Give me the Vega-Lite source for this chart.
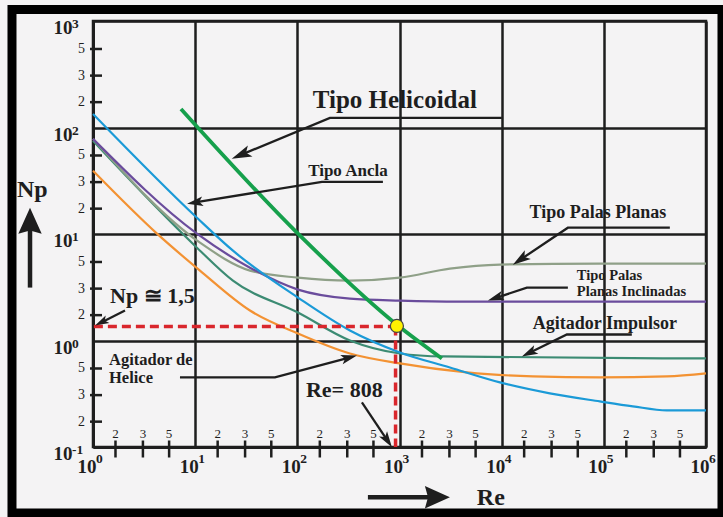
{
  "$schema": "https://vega.github.io/schema/vega-lite/v6.json",
  "width": 613,
  "height": 426,
  "autosize": {"type": "none"},
  "padding": {"left": 93, "top": 21, "right": 17, "bottom": 70},
  "background": "#f4f3f4",
  "config": {"view": {"stroke": "#1e1e1e", "strokeWidth": 2.5}},
  "encoding": {
    "x": {
      "field": "Re", "type": "quantitative",
      "scale": {"type": "log", "domain": [1, 1000000], "nice": false},
      "axis": {
        "values": [1, 10, 100, 1000, 10000, 100000, 1000000],
        "labelExpr": "'10'",
        "title": null, "ticks": false, "tickSize": 0, "grid": true,
        "gridColor": "#1e1e1e", "gridWidth": 2.5, "gridOpacity": 1,
        "domainColor": "#1e1e1e", "domainWidth": 3,
        "labelFont": "Liberation Serif", "labelFontWeight": "bold", "labelFontSize": 19,
        "labelColor": "#1e1e1e", "labelPadding": 25, "labelAlign": "right", "labelBaseline": "alphabetic", "labelOffset": 3,
        "labelFlush": false, "labelOverlap": false, "labelBound": false
      }
    },
    "y": {
      "field": "Np", "type": "quantitative",
      "scale": {"type": "log", "domain": [0.1, 1000], "nice": false},
      "axis": {
        "values": [0.1, 1, 10, 100, 1000],
        "labelExpr": "'10'",
        "title": null, "ticks": false, "tickSize": 0, "grid": true,
        "gridColor": "#1e1e1e", "gridWidth": 2.5, "gridOpacity": 1,
        "domainColor": "#1e1e1e", "domainWidth": 3,
        "labelFont": "Liberation Serif", "labelFontWeight": "bold", "labelFontSize": 19,
        "labelColor": "#1e1e1e", "labelPadding": 21, "labelAlign": "right", "labelBaseline": "alphabetic", "labelOffset": 12.5,
        "labelFlush": false, "labelOverlap": false, "labelBound": false
      }
    }
  },
  "layer": [
    {
      "data": {"values": [
        {"series": "Agitador de Helice", "Re": 1, "Np": 39.2},
        {"series": "Agitador de Helice", "Re": 4.229, "Np": 10.07},
        {"series": "Agitador de Helice", "Re": 11.14, "Np": 4.53},
        {"series": "Agitador de Helice", "Re": 34.38, "Np": 1.911},
        {"series": "Agitador de Helice", "Re": 101.4, "Np": 1.163},
        {"series": "Agitador de Helice", "Re": 327, "Np": 0.755},
        {"series": "Agitador de Helice", "Re": 1009, "Np": 0.609},
        {"series": "Agitador de Helice", "Re": 4565, "Np": 0.501},
        {"series": "Agitador de Helice", "Re": 20200, "Np": 0.46},
        {"series": "Agitador de Helice", "Re": 91400, "Np": 0.45},
        {"series": "Agitador de Helice", "Re": 413400, "Np": 0.46},
        {"series": "Agitador de Helice", "Re": 1000000, "Np": 0.4907},
        {"series": "Agitador Impulsor", "Re": 1, "Np": 74.9},
        {"series": "Agitador Impulsor", "Re": 10.41, "Np": 7.44},
        {"series": "Agitador Impulsor", "Re": 23.44, "Np": 3.65},
        {"series": "Agitador Impulsor", "Re": 101.4, "Np": 1.83},
        {"series": "Agitador Impulsor", "Re": 327, "Np": 1.0},
        {"series": "Agitador Impulsor", "Re": 1009, "Np": 0.755},
        {"series": "Agitador Impulsor", "Re": 2659, "Np": 0.708},
        {"series": "Agitador Impulsor", "Re": 1000000, "Np": 0.678},
        {"series": "Tipo Palas Planas", "Re": 1, "Np": 78.2},
        {"series": "Tipo Palas Planas", "Re": 11.14, "Np": 8.29},
        {"series": "Tipo Palas Planas", "Re": 34.38, "Np": 4.53},
        {"series": "Tipo Palas Planas", "Re": 101.4, "Np": 3.89},
        {"series": "Tipo Palas Planas", "Re": 327, "Np": 3.65},
        {"series": "Tipo Palas Planas", "Re": 1009, "Np": 3.89},
        {"series": "Tipo Palas Planas", "Re": 3113, "Np": 4.73},
        {"series": "Tipo Palas Planas", "Re": 9603, "Np": 5.16},
        {"series": "Tipo Palas Planas", "Re": 91400, "Np": 5.27},
        {"series": "Tipo Palas Planas", "Re": 1000000, "Np": 5.27},
        {"series": "Tipo Palas Planas Inclinadas", "Re": 1, "Np": 78.2},
        {"series": "Tipo Palas Planas Inclinadas", "Re": 10.41, "Np": 10.07},
        {"series": "Tipo Palas Planas Inclinadas", "Re": 34.38, "Np": 4.83},
        {"series": "Tipo Palas Planas Inclinadas", "Re": 101.4, "Np": 3.006},
        {"series": "Tipo Palas Planas Inclinadas", "Re": 327, "Np": 2.476},
        {"series": "Tipo Palas Planas Inclinadas", "Re": 1009, "Np": 2.371},
        {"series": "Tipo Palas Planas Inclinadas", "Re": 3899, "Np": 2.32},
        {"series": "Tipo Palas Planas Inclinadas", "Re": 1000000, "Np": 2.32},
        {"series": "Tipo Ancla", "Re": 1, "Np": 134.1},
        {"series": "Tipo Ancla", "Re": 10.41, "Np": 14.21},
        {"series": "Tipo Ancla", "Re": 23.44, "Np": 6.97},
        {"series": "Tipo Ancla", "Re": 101.4, "Np": 2.529},
        {"series": "Tipo Ancla", "Re": 327, "Np": 1.241},
        {"series": "Tipo Ancla", "Re": 1009, "Np": 0.772},
        {"series": "Tipo Ancla", "Re": 3113, "Np": 0.558},
        {"series": "Tipo Ancla", "Re": 9603, "Np": 0.404},
        {"series": "Tipo Ancla", "Re": 29610, "Np": 0.319},
        {"series": "Tipo Ancla", "Re": 91400, "Np": 0.268},
        {"series": "Tipo Ancla", "Re": 192200, "Np": 0.241},
        {"series": "Tipo Ancla", "Re": 413400, "Np": 0.221},
        {"series": "Tipo Ancla", "Re": 1000000, "Np": 0.221}
      ]},
      "mark": {"type": "line", "strokeWidth": 2.2, "interpolate": "monotone"},
      "encoding": {
        "color": {"field": "series", "type": "nominal", "legend": null,
          "scale": {"domain": ["Agitador de Helice", "Agitador Impulsor", "Tipo Palas Planas", "Tipo Palas Planas Inclinadas", "Tipo Ancla"],
                    "range": ["#f39233", "#3c8b73", "#8fa088", "#6a4c9c", "#1b9ad7"]}}
      }
    },
    {
      "data": {"values": [
        {"series": "Tipo Helicoidal", "Re": 7.26, "Np": 149.4},
        {"series": "Tipo Helicoidal", "Re": 101.4, "Np": 10.07},
        {"series": "Tipo Helicoidal", "Re": 964.5, "Np": 1.382},
        {"series": "Tipo Helicoidal", "Re": 2600, "Np": 0.678}
      ]},
      "mark": {"type": "line", "strokeWidth": 3.8, "color": "#16a04c", "interpolate": "monotone"}
    },
    {
      "data": {"values": [
        {"seg": "h", "k": 0, "Re": 1.02, "Np": 1.355},
        {"seg": "h", "k": 1, "Re": 915, "Np": 1.355},
        {"seg": "v", "k": 0, "Re": 915, "Np": 1.355},
        {"seg": "v", "k": 1, "Re": 915, "Np": 0.1}
      ]},
      "mark": {"type": "line", "strokeWidth": 3.5, "color": "#d9262c", "strokeDash": [9, 5]},
      "encoding": {"detail": {"field": "seg"}, "order": {"field": "k"}}
    },
    {
      "data": {"values": [{"Re": 943, "Np": 1.37}]},
      "mark": {"type": "point", "shape": "circle", "filled": true, "fill": "#fff200", "stroke": "#444444", "strokeWidth": 1.2, "size": 170, "opacity": 1}
    },
    {
      "data": {"values": [
        {"arrow": "A1", "k": 0, "Re": 10046, "Np": 123.0},
        {"arrow": "A1", "k": 1, "Re": 208.4, "Np": 123.0},
        {"arrow": "A1", "k": 2, "Re": 28.06, "Np": 55.4},
        {"arrow": "A2", "k": 0, "Re": 688, "Np": 30.9},
        {"arrow": "A2", "k": 1, "Re": 174.1, "Np": 30.9},
        {"arrow": "A2", "k": 2, "Re": 9.95, "Np": 19.78},
        {"arrow": "A3", "k": 0, "Re": 442600, "Np": 11.46},
        {"arrow": "A3", "k": 1, "Re": 44460, "Np": 11.46},
        {"arrow": "A3", "k": 2, "Re": 15240, "Np": 5.742},
        {"arrow": "A4", "k": 0, "Re": 44460, "Np": 3.139},
        {"arrow": "A4", "k": 1, "Re": 17640, "Np": 3.139},
        {"arrow": "A4", "k": 2, "Re": 8697, "Np": 2.502},
        {"arrow": "A5", "k": 0, "Re": 187900, "Np": 1.138},
        {"arrow": "A5", "k": 1, "Re": 43450, "Np": 1.138},
        {"arrow": "A5", "k": 2, "Re": 18540, "Np": 0.7635},
        {"arrow": "A6", "k": 0, "Re": 7.10, "Np": 0.4499},
        {"arrow": "A6", "k": 1, "Re": 60.37, "Np": 0.4499},
        {"arrow": "A6", "k": 2, "Re": 322, "Np": 0.6914},
        {"arrow": "A7", "k": 0, "Re": 2.056, "Np": 1.911},
        {"arrow": "A7", "k": 1, "Re": 1.206, "Np": 1.478},
        {"arrow": "A8", "k": 0, "Re": 428.6, "Np": 0.2623},
        {"arrow": "A8", "k": 1, "Re": 763, "Np": 0.1148}
      ]},
      "mark": {"type": "line", "strokeWidth": 2.3, "color": "#1e1e1e"},
      "encoding": {"detail": {"field": "arrow"}, "order": {"field": "k"}}
    },
    {
      "data": {"values": [
        {"arrow": "Np", "k": 0, "Re": 0.2418, "Np": 3.139},
        {"arrow": "Np", "k": 1, "Re": 0.2418, "Np": 13.32},
        {"arrow": "Re", "k": 0, "Re": 490.6, "Np": 0.03378},
        {"arrow": "Re", "k": 1, "Re": 2349, "Np": 0.03378}
      ]},
      "mark": {"type": "line", "strokeWidth": 4.5, "color": "#1e1e1e", "clip": false},
      "encoding": {"detail": {"field": "arrow"}, "order": {"field": "k"}}
    },
    {"data": {"values": [{"Re": 28.06, "Np": 55.4}]},
     "mark": {"type": "point", "shape": "M0,-1L0.6,1L0,0.55L-0.6,1Z", "filled": true, "color": "#1e1e1e", "opacity": 1, "size": 400, "angle": 247.3}},
    {"data": {"values": [{"Re": 9.95, "Np": 19.78}]},
     "mark": {"type": "point", "shape": "M0,-1L0.6,1L0,0.55L-0.6,1Z", "filled": true, "color": "#1e1e1e", "opacity": 1, "size": 256, "angle": 260.7}},
    {"data": {"values": [{"Re": 15240, "Np": 5.742}]},
     "mark": {"type": "point", "shape": "M0,-1L0.6,1L0,0.55L-0.6,1Z", "filled": true, "color": "#1e1e1e", "opacity": 1, "size": 324, "angle": 236.1}},
    {"data": {"values": [{"Re": 8697, "Np": 2.502}]},
     "mark": {"type": "point", "shape": "M0,-1L0.6,1L0,0.55L-0.6,1Z", "filled": true, "color": "#1e1e1e", "opacity": 1, "size": 256, "angle": 251.6}},
    {"data": {"values": [{"Re": 18540, "Np": 0.7635}]},
     "mark": {"type": "point", "shape": "M0,-1L0.6,1L0,0.55L-0.6,1Z", "filled": true, "color": "#1e1e1e", "opacity": 1, "size": 256, "angle": 243.9}},
    {"data": {"values": [{"Re": 322, "Np": 0.6914}]},
     "mark": {"type": "point", "shape": "M0,-1L0.6,1L0,0.55L-0.6,1Z", "filled": true, "color": "#1e1e1e", "opacity": 1, "size": 256, "angle": 75}},
    {"data": {"values": [{"Re": 1.206, "Np": 1.478}]},
     "mark": {"type": "point", "shape": "M0,-1L0.6,1L0,0.55L-0.6,1Z", "filled": true, "color": "#1e1e1e", "opacity": 1, "size": 196, "angle": 243.4}},
    {"data": {"values": [{"Re": 763, "Np": 0.1148}]},
     "mark": {"type": "point", "shape": "M0,-1L0.6,1L0,0.55L-0.6,1Z", "filled": true, "color": "#1e1e1e", "opacity": 1, "size": 256, "angle": 146.3}},
    {"data": {"values": [{"Re": 0.2418, "Np": 13.32}]},
     "mark": {"type": "point", "shape": "M0,-1L0.9,1L0,0.75L-0.9,1Z", "filled": true, "color": "#1e1e1e", "opacity": 1, "size": 676, "angle": 0, "clip": false}},
    {"data": {"values": [{"Re": 2349, "Np": 0.03378}]},
     "mark": {"type": "point", "shape": "M0,-1L0.9,1L0,0.75L-0.9,1Z", "filled": true, "color": "#1e1e1e", "opacity": 1, "size": 625, "angle": 90, "clip": false}},
    {"data": {"values": [{"Re": 901, "Np": 152.7, "t": "Tipo Helicoidal"}]},
     "mark": {"type": "text", "font": "Liberation Serif", "fontWeight": "bold", "fontSize": 25, "align": "center", "baseline": "alphabetic", "color": "#1e1e1e"},
     "encoding": {"text": {"field": "t"}}},
    {"data": {"values": [{"Re": 312.6, "Np": 35.2, "t": "Tipo Ancla"}]},
     "mark": {"type": "text", "font": "Liberation Serif", "fontWeight": "bold", "fontSize": 17, "align": "center", "baseline": "alphabetic", "color": "#1e1e1e"},
     "encoding": {"text": {"field": "t"}}},
    {"data": {"values": [{"Re": 87300, "Np": 14.2, "t": "Tipo Palas Planas"}, {"Re": 102300, "Np": 1.296, "t": "Agitador Impulsor"}]},
     "mark": {"type": "text", "font": "Liberation Serif", "fontWeight": "bold", "fontSize": 18, "align": "center", "baseline": "alphabetic", "color": "#1e1e1e"},
     "encoding": {"text": {"field": "t"}}},
    {"data": {"values": [{"Re": 54450, "Np": 3.73, "t": "Tipo Palas"}, {"Re": 54450, "Np": 2.64, "t": "Planas Inclinadas"}]},
     "mark": {"type": "text", "font": "Liberation Serif", "fontWeight": "bold", "fontSize": 14.5, "align": "left", "baseline": "alphabetic", "color": "#1e1e1e"},
     "encoding": {"text": {"field": "t"}}},
    {"data": {"values": [{"Re": 1.434, "Np": 0.583, "t": "Agitador de"}, {"Re": 1.434, "Np": 0.3953, "t": "Helice"}]},
     "mark": {"type": "text", "font": "Liberation Serif", "fontWeight": "bold", "fontSize": 16.5, "align": "left", "baseline": "alphabetic", "color": "#1e1e1e"},
     "encoding": {"text": {"field": "t"}}},
    {"data": {"values": [{"Re": 1.467, "Np": 2.27, "t": "Np ≅ 1,5"}, {"Re": 121.4, "Np": 0.2922, "t": "Re= 808"}]},
     "mark": {"type": "text", "font": "Liberation Serif", "fontWeight": "bold", "fontSize": 22, "align": "left", "baseline": "alphabetic", "color": "#1e1e1e"},
     "encoding": {"text": {"field": "t"}}},
    {"data": {"values": [{"Re": 0.1805, "Np": 22.4, "t": "Np"}, {"Re": 5715, "Np": 0.02842, "t": "Re"}]},
     "mark": {"type": "text", "font": "Liberation Serif", "fontWeight": "bold", "fontSize": 24, "align": "left", "baseline": "alphabetic", "color": "#1e1e1e", "clip": false},
     "encoding": {"text": {"field": "t"}}},
    {
      "data": {"values": [
        {"Re": 1, "Np": 0.1, "e": "0"}, {"Re": 10, "Np": 0.1, "e": "1"}, {"Re": 100, "Np": 0.1, "e": "2"},
        {"Re": 1000, "Np": 0.1, "e": "3"}, {"Re": 10000, "Np": 0.1, "e": "4"}, {"Re": 100000, "Np": 0.1, "e": "5"},
        {"Re": 1000000, "Np": 0.1, "e": "6"}
      ]},
      "mark": {"type": "text", "font": "Liberation Serif", "fontWeight": "bold", "fontSize": 13.5, "align": "left", "baseline": "alphabetic", "dx": 3, "dy": 16, "color": "#1e1e1e", "clip": false},
      "encoding": {"text": {"field": "e"}}
    },
    {
      "data": {"values": [
        {"Re": 1, "Np": 0.1, "e": "-1"}, {"Re": 1, "Np": 1, "e": "0"}, {"Re": 1, "Np": 10, "e": "1"},
        {"Re": 1, "Np": 100, "e": "2"}, {"Re": 1, "Np": 1000, "e": "3"}
      ]},
      "mark": {"type": "text", "font": "Liberation Serif", "fontWeight": "bold", "fontSize": 13.5, "align": "left", "baseline": "alphabetic", "dx": -21, "dy": 7, "color": "#1e1e1e", "clip": false},
      "encoding": {"text": {"field": "e"}}
    },
    {
      "data": {"values": [
        {"Re": 1.66, "Np": 0.1, "t": "2"}, {"Re": 3.08, "Np": 0.1, "t": "3"}, {"Re": 5.56, "Np": 0.1, "t": "5"},
        {"Re": 16.6, "Np": 0.1, "t": "2"}, {"Re": 30.8, "Np": 0.1, "t": "3"}, {"Re": 55.6, "Np": 0.1, "t": "5"},
        {"Re": 166, "Np": 0.1, "t": "2"}, {"Re": 308, "Np": 0.1, "t": "3"}, {"Re": 556, "Np": 0.1, "t": "5"},
        {"Re": 1660, "Np": 0.1, "t": "2"}, {"Re": 3080, "Np": 0.1, "t": "3"}, {"Re": 5560, "Np": 0.1, "t": "5"},
        {"Re": 16600, "Np": 0.1, "t": "2"}, {"Re": 30800, "Np": 0.1, "t": "3"}, {"Re": 55600, "Np": 0.1, "t": "5"},
        {"Re": 166000, "Np": 0.1, "t": "2"}, {"Re": 308000, "Np": 0.1, "t": "3"}, {"Re": 556000, "Np": 0.1, "t": "5"}
      ]},
      "layer": [
        {"mark": {"type": "tick", "orient": "vertical", "size": 17, "thickness": 2.5, "color": "#1e1e1e", "opacity": 1, "yOffset": 2}},
        {"mark": {"type": "text", "font": "Liberation Serif", "fontSize": 13, "align": "center", "baseline": "alphabetic", "dy": -9, "color": "#1e1e1e"},
         "encoding": {"text": {"field": "t"}}}
      ]
    },
    {
      "data": {"values": [
        {"Re": 1, "Np": 0.173, "t": "2"}, {"Re": 1, "Np": 0.307, "t": "3"}, {"Re": 1, "Np": 0.546, "t": "5"},
        {"Re": 1, "Np": 1.73, "t": "2"}, {"Re": 1, "Np": 3.07, "t": "3"}, {"Re": 1, "Np": 5.46, "t": "5"},
        {"Re": 1, "Np": 17.3, "t": "2"}, {"Re": 1, "Np": 30.7, "t": "3"}, {"Re": 1, "Np": 54.6, "t": "5"},
        {"Re": 1, "Np": 173, "t": "2"}, {"Re": 1, "Np": 307, "t": "3"}, {"Re": 1, "Np": 546, "t": "5"}
      ]},
      "layer": [
        {"mark": {"type": "tick", "orient": "horizontal", "size": 12, "thickness": 2.5, "color": "#1e1e1e", "opacity": 1, "xOffset": 3}},
        {"mark": {"type": "text", "font": "Liberation Serif", "fontSize": 14, "align": "right", "baseline": "middle", "dx": -8, "color": "#1e1e1e"},
         "encoding": {"text": {"field": "t"}}}
      ]
    },
    {
      "data": {"values": [{"Re": 0.1611, "Re2": 1434000, "Np": 1282, "Np2": 0.024}]},
      "mark": {"type": "rect", "filled": false, "stroke": "#000000", "strokeWidth": 9, "clip": false},
      "encoding": {"x2": {"field": "Re2"}, "y2": {"field": "Np2"}}
    }
  ]
}
